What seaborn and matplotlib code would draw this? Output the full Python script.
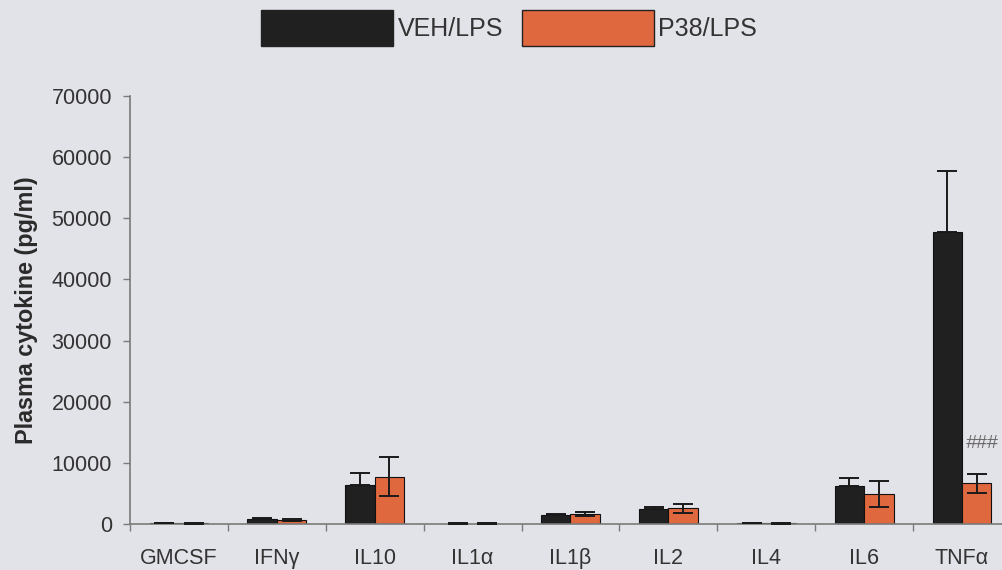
import matplotlib
matplotlib.use("Agg")
import matplotlib.pyplot as plt
from matplotlib.patches import Patch
import numpy as np
import pandas as pd
import seaborn as sns

# Plasma cytokine levels (pg/ml), mean and SEM per treatment group
categories = ["GMCSF", "IFNγ", "IL10", "IL1α", "IL1β", "IL2", "IL4", "IL6", "TNFα"]
groups = ["VEH/LPS", "P38/LPS"]
veh_mean = [120, 750, 6300, 80, 1450, 2400, 100, 6200, 47800]
veh_sem = [40, 200, 2100, 30, 250, 300, 30, 1300, 9900]
p38_mean = [100, 600, 7750, 70, 1650, 2550, 90, 4950, 6650]
p38_sem = [30, 150, 3250, 20, 300, 800, 30, 2100, 1600]
y_ticks = [0, 10000, 20000, 30000, 40000, 50000, 60000, 70000]

bg = "#e2e2e9"
colors = ["#202020", "#e0683f"]
axis_grey = "#7a7a7a"
text_dark = "#333333"

sns.set_theme(style="white")
plt.rcParams["font.family"] = ["Liberation Sans", "DejaVu Sans"]

df = pd.DataFrame({
    "cytokine": categories * 2,
    "group": [groups[0]] * len(categories) + [groups[1]] * len(categories),
    "value": veh_mean + p38_mean,
})
sems = [veh_sem, p38_sem]

fig = plt.figure(figsize=(10.02, 5.70), dpi=100, facecolor=bg)
ax = fig.add_axes([130 / 1002, 46 / 570, 881 / 1002, 428 / 570])
ax.set_facecolor(bg)

sns.barplot(data=df, x="cytokine", y="value", hue="group", order=categories,
            hue_order=groups, palette=colors, width=0.6, errorbar=None,
            edgecolor="#111111", linewidth=0.8, saturation=1, legend=False, ax=ax)

# SEM error bars on each drawn bar; the dark bars only show the upper arm
for i, (cont, err) in enumerate(zip(ax.containers, sems)):
    xs = [b.get_x() + b.get_width() / 2 for b in cont]
    hs = [b.get_height() for b in cont]
    yerr = [np.zeros(len(err)), err] if i == 0 else err
    ax.errorbar(xs, hs, yerr=yerr, fmt="none", ecolor="#1a1a1a",
                elinewidth=1.4, capsize=7, capthick=1.4, zorder=5)

# Significance marker on the TNFα P38 bar
tn = ax.containers[1][categories.index("TNFα")]
ax.text(tn.get_x() + tn.get_width() / 2 + 0.05, 13100, "###", ha="center",
        va="center", fontsize=14, color="#6a6a6a", style="italic")

ax.set_xlim(-0.5, len(categories) - 0.5)
ax.set_ylim(0, 70000)
ax.set_yticks(y_ticks)
ax.set_yticklabels([str(t) for t in y_ticks])
ax.set_xticks(range(len(categories)))
ax.set_xticks(np.arange(-0.5, len(categories), 1.0), minor=True)

ax.tick_params(axis="y", which="major", direction="out", length=5, width=1,
               color=axis_grey, pad=8, labelsize=15.5, labelcolor=text_dark, left=True)
ax.tick_params(axis="x", which="major", length=0, pad=17, labelsize=15.5,
               labelcolor=text_dark, bottom=True)
ax.tick_params(axis="x", which="minor", direction="out", length=5, width=1,
               color=axis_grey, bottom=True)

ax.set_xlabel("")
ax.set_ylabel("Plasma cytokine (pg/ml)", fontsize=16.8, fontweight="bold",
              color="#2a2a2a", labelpad=10)

for side in ["top", "right"]:
    ax.spines[side].set_visible(False)
for side in ["left", "bottom"]:
    ax.spines[side].set_color(axis_grey)
    ax.spines[side].set_linewidth(1.2)

handles = [Patch(facecolor=c, edgecolor="#222222", linewidth=1) for c in colors]
fig.legend(handles, groups, loc="center", bbox_to_anchor=(509 / 1002, 1 - 28 / 570),
           ncol=2, frameon=False, fontsize=18, handlelength=5.3, handleheight=1.85,
           handletextpad=0.16, columnspacing=0.75, labelcolor=text_dark)

fig.savefig("out.png", dpi=100, facecolor=bg)
